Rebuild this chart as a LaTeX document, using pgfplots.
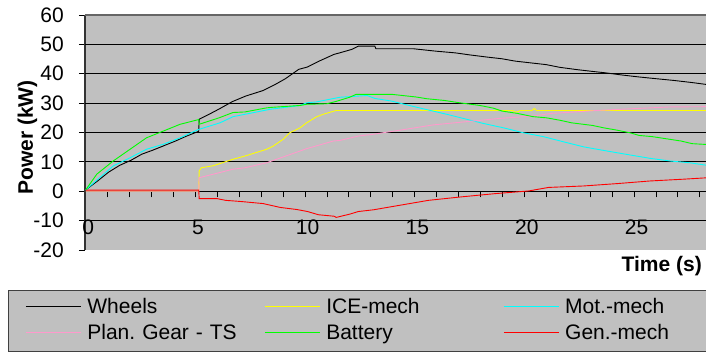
\documentclass[border=0pt]{standalone}
\usepackage{pgfplots}
\pgfplotsset{compat=1.18}
\usepackage{fontspec}
\setmainfont{Liberation Sans}
\frenchspacing
\definecolor{bg}{RGB}{192,192,192}
\definecolor{ppink}{RGB}{255,153,204}
\definecolor{pyellow}{RGB}{255,255,0}
\definecolor{pcyan}{RGB}{0,255,255}
\definecolor{pgreen}{RGB}{0,255,0}
\definecolor{pred}{RGB}{255,0,0}
\begin{document}
\begin{tikzpicture}
\begin{axis}[
  scale only axis, width=621pt, height=235pt,
  xmin=-0.036, xmax=28.28, ymin=-20, ymax=60,
  axis x line=middle, axis y line=left,
  axis line style={-},
  x axis line style={black, line width=1pt},
  y axis line style={black!80, line width=1.5pt},
  axis background/.style={fill=bg},
  xtick={0,5,10,15,20,25}, xticklabels={0,5,10,15,20,25},
  minor xtick={1,2,3,4,6,7,8,9,11,12,13,14,16,17,18,19,21,22,23,24,26,27,28},
  ytick={-20,-10,0,10,20,30,40,50,60}, yticklabels={-20,-10,0,10,20,30,40,50,60},
  tick align=outside, major tick length=6pt, minor tick length=6pt,
  tick style={black, line width=1pt},
  xticklabel style={anchor=center, inner sep=0pt, yshift=-30.25pt, xshift=2.5pt},
  yticklabel style={anchor=east, inner sep=0pt, xshift=-15pt},
  tick label style={font=\fontsize{21}{25}\selectfont},
  extra y ticks={-10,10,20,30,40,50}, extra y tick labels={},
  extra y tick style={ymajorgrids=true, major grid style={black, line width=0.9pt}, major tick length=0pt},
  xlabel={Time (s)},
  xlabel style={at={(axis description cs:0.9936,-0.0681)}, anchor=east, inner sep=0pt, font=\fontsize{21}{25}\selectfont\bfseries},
  ylabel={Power (kW)},
  ylabel style={at={(axis description cs:-0.0926,0.4787)}, anchor=center, inner sep=0pt, font=\fontsize{21}{25}\selectfont\bfseries},
  legend columns=3,
  legend image code/.code={\draw[#1, line width=0.9pt] (0pt,7pt) -- (55pt,7pt);},
  legend style={at={(axis description cs:-0.12351,-0.17021)}, anchor=north west,
    fill=bg, draw=black!75, line width=1pt, inner xsep=16.7pt, inner ysep=7.5pt, row sep=7pt,
    cells={anchor=base west},
    nodes={inner sep=0pt, text height=15pt, text depth=4.5pt, text width=171pt, align=left, font=\fontsize{21}{25}\selectfont},
    /tikz/every odd column/.append style={column sep=6pt},
    /tikz/every even column/.append style={column sep=6pt}},
  after end axis/.code={\draw[black!60, line width=1.5pt] (rel axis cs:0,1) -- (rel axis cs:1,1);},
]
\addplot[black, line width=0.9pt] coordinates {
(0,0.5) (0.54,3.5) (1.04,6.5) (1.54,8.8) (2.05,10.5) (2.55,12.6) (3.06,14) (3.56,15.5) (4.06,17) (4.57,18.7) (5.15,20.4) (5.17,24.5) (5.57,26) (6.08,28) (6.68,30.5) (7.29,32.4) (8.09,34.3) (8.6,36.2) (9.1,38.3) (9.71,41.5) (10.11,42.3) (10.61,44.2) (11.32,46.6) (11.62,47.2) (12.13,48.3) (12.43,49.4) (13.18,49.4) (13.23,48.5) (14.95,48.5) (15.95,47.7) (16.86,47.1) (17.52,46.4) (18.27,45.7) (18.98,45.1) (19.58,44.3) (20.29,43.7) (21.0,43.1) (21.6,42.2) (22.4,41.4) (23.1,40.8) (23.71,40.3) (24.42,39.6) (25.23,38.9) (26.03,38.3) (26.84,37.7) (27.65,37) (28.35,36.3)};
\addlegendentry{Wheels}
\addplot[pyellow, line width=0.9pt] coordinates {
(0,0) (5.15,0) (5.17,6.9) (5.27,8) (5.82,8.7) (6.72,10.9) (7.26,12) (8.25,14.3) (8.55,15.4) (9.0,17.7) (9.3,19.9) (9.77,21.6) (10.07,23.3) (10.51,25.3) (10.82,26.2) (11.42,27.5) (19.45,27.5) (19.55,27) (19.7,27) (19.8,27.5) (20.35,27.5) (20.45,28.2) (20.55,27.5) (28.35,27.5)};
\addlegendentry{ICE-mech}
\addplot[pcyan, line width=0.9pt] coordinates {
(0,0.5) (0.54,4) (1.25,8.6) (2.02,11.4) (2.77,14.3) (3.54,16) (4.3,18.2) (5.13,21) (6.12,23.3) (6.72,25.4) (7.26,26.2) (8.4,27.9) (9.77,29.2) (10.07,30.1) (10.51,30.4) (11.59,32) (12.03,32.2) (12.43,32.4) (12.83,32.6) (13.18,31.6) (13.94,30.7) (14.75,29.2) (15.6,27.7) (16.46,26.2) (17.37,24.5) (18.12,23.1) (19.04,21.6) (19.95,19.9) (20.86,18.6) (21.8,16.8) (22.71,15.1) (23.61,13.9) (24.62,12.6) (25.73,11.2) (26.64,10.3) (27.54,9.7) (28.35,8.8)};
\addlegendentry{Mot.-mech}
\addplot[ppink, line width=0.9pt] coordinates {
(0,0) (5.15,0) (5.17,4.6) (6.71,7.5) (7.26,8) (8.25,9.7) (8.55,10.5) (9.77,13.7) (10.07,14.5) (11.29,17.1) (11.59,17.3) (12.43,18.8) (13.11,19.4) (13.54,19.9) (14.34,20.8) (15.85,22.6) (17.37,23.7) (18.88,24.8) (20.39,25.6) (21.2,26.5) (21.9,26.8) (23.31,27.5) (24.92,28.1) (26.64,28.7) (28.35,28.8)};
\addlegendentry{Plan. Gear - TS}
\addplot[pgreen, line width=0.9pt] coordinates {
(0,0.5) (0.5,5.8) (1.25,10.3) (2.02,14.3) (2.77,18.2) (3.54,20.5) (4.3,22.8) (5.15,24.4) (5.17,22.8) (6.08,25) (6.71,26.8) (7.26,27) (8.25,28.4) (8.55,28.6) (9.77,29.2) (10.07,29.6) (10.99,29.8) (11.42,30.6) (12.03,32) (12.33,33) (13.94,33) (15.05,32.1) (15.55,31.5) (16.36,30.9) (17.06,30.1) (17.97,29.2) (18.58,28.3) (18.98,27.3) (19.68,26.5) (20.39,25.4) (21.0,25) (21.6,24.2) (22.15,23.3) (23.11,22.4) (23.61,21.6) (24.22,20.8) (24.82,19.9) (25.23,19) (25.83,18.6) (26.44,17.9) (27.14,17.1) (27.65,16.2) (28.35,15.9)};
\addlegendentry{Battery}
\addplot[pred, line width=0.9pt] coordinates {
(0,0.4) (5.15,0.4) (5.17,-2.5) (5.98,-2.5) (6.38,-3.1) (7.09,-3.5) (8.09,-4.2) (8.86,-5.5) (9.61,-6.2) (10.11,-6.9) (10.61,-8) (11.32,-8.5) (11.42,-8.9) (12.03,-7.8) (12.43,-6.9) (13.13,-6.3) (14.14,-5) (15.62,-3.1) (17.14,-1.9) (18.68,-0.8) (20.19,0.1) (21.1,1.3) (22.7,1.8) (24.22,2.6) (25.73,3.5) (27.24,4.1) (28.35,4.6)};
\addlegendentry{Gen.-mech}
\end{axis}
\pgfresetboundingbox
\path[use as bounding box] (-85pt,-103pt) rectangle (621pt,250pt);
\end{tikzpicture}
\end{document}
